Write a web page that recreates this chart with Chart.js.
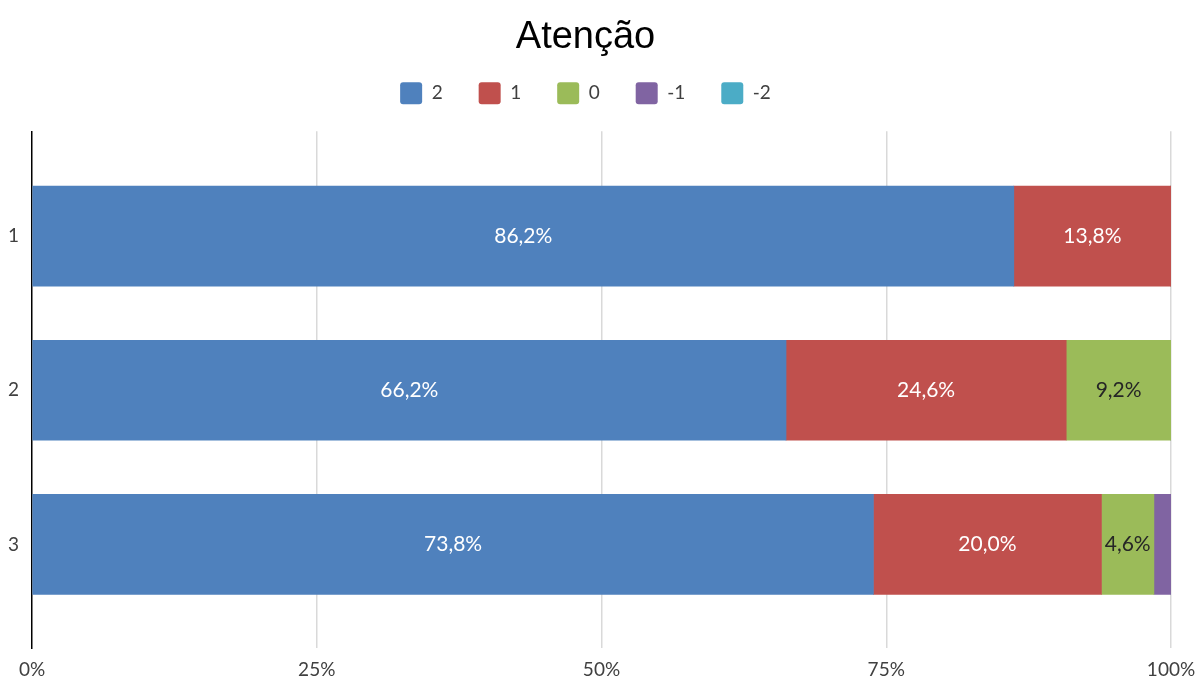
<!DOCTYPE html>
<html>
<head>
<meta charset="utf-8">
<script src="https://cdn.jsdelivr.net/npm/chart.js@4.4.1/dist/chart.umd.min.js"></script>
<style>
  html, body { margin: 0; padding: 0; background: #fff; }
  #wrap { width: 1198px; height: 682px; }
</style>
</head>
<body>
<div id="wrap"><canvas id="chart"></canvas></div>
<script>
// categories (rows) and series (percent of answers)
const categories = ['1', '2', '3'];
const seriesNames = ['2', '1', '0', '-1', '-2'];
const serie2 = [86.2, 66.2, 73.8];
const serie1 = [13.8, 24.6, 20.0];
const serie0 = [0, 9.2, 4.6];
const serieMinus1 = [0, 0, 1.5];
const serieMinus2 = [0, 0, 0];
const xTicks = [0, 25, 50, 75, 100];

const rawSeries = [serie2, serie1, serie0, serieMinus1, serieMinus2];
const colors = ['#4F81BD', '#C0504D', '#9BBB59', '#8064A2', '#4BACC6'];
const labelColors = ['#ffffff', '#ffffff', '#262626', '#ffffff', '#ffffff'];

// 100% stacked: each row scaled to its total
const rowTotals = categories.map((c, i) => rawSeries.reduce((s, arr) => s + arr[i], 0));

const textFont = 'Lato, "Open Sans", sans-serif';

const datasets = rawSeries.map((arr, si) => ({
  label: seriesNames[si],
  data: arr.map((v, i) => ({ x: v / rowTotals[i] * 100, y: i })),
  backgroundColor: colors[si],
  borderWidth: 0,
  barThickness: 100
}));

// labels in the middle of each segment, like Excel data labels
const segLabels = {
  id: 'segLabels',
  afterDatasetsDraw(chart) {
    const ctx = chart.ctx;
    ctx.save();
    ctx.font = '21px ' + textFont;
    ctx.textAlign = 'center';
    ctx.textBaseline = 'middle';
    chart.data.datasets.forEach((ds, di) => {
      const meta = chart.getDatasetMeta(di);
      meta.data.forEach((bar, i) => {
        const v = rawSeries[di][i];
        if (v < 3) return;
        ctx.fillStyle = labelColors[di];
        ctx.fillText(v.toFixed(1).replace('.', ',') + '%', (bar.x + bar.base) / 2, bar.y);
      });
    });
    ctx.restore();
  }
};

// extra room between legend and plot
const legendGap = {
  id: 'legendGap',
  beforeInit(chart) {
    const fit = chart.legend.fit;
    chart.legend.fit = function () {
      fit.call(this);
      this.height += 17;
    };
  }
};

new Chart(document.getElementById('chart'), {
  type: 'bar',
  data: { datasets },
  options: {
    indexAxis: 'y',
    responsive: true,
    maintainAspectRatio: false,
    animation: false,
    layout: { padding: { left: 0, right: 27, top: 0, bottom: -9 } },
    plugins: {
      title: {
        display: true,
        text: 'Atenção',
        color: '#000',
        font: { family: '"Liberation Sans", Arial, sans-serif', size: 38, weight: 'normal', lineHeight: 0.45 },
        padding: { top: 28.5, bottom: 0.7 }
      },
      legend: {
        display: true,
        labels: {
          boxWidth: 22,
          boxHeight: 22,
          padding: 36,
          useBorderRadius: true,
          borderRadius: 3,
          color: '#404040',
          font: { family: textFont, size: 19 }
        }
      },
      tooltip: { enabled: false }
    },
    scales: {
      x: {
        type: 'linear',
        min: 0,
        max: 100,
        stacked: true,
        afterBuildTicks: s => { s.ticks = xTicks.map(v => ({ value: v })); },
        afterFit: s => { s.paddingRight = 0; s.paddingLeft = 0; },
        ticks: {
          callback: v => v + '%',
          color: '#404040',
          font: { family: textFont, size: 19 },
          padding: 10,
          maxRotation: 0
        },
        grid: {
          color: c => (c.tick && c.tick.value === 0) ? 'rgba(0,0,0,0)' : '#d9d9d9',
          lineWidth: 1.5,
          drawTicks: false
        },
        border: { display: false }
      },
      y: {
        type: 'linear',
        reverse: true,
        offset: false,
        min: -0.68,
        max: 2.673,
        stacked: true,
        afterBuildTicks: s => { s.ticks = categories.map((c, i) => ({ value: i })); },
        afterFit: s => { s.width = 32; },
        ticks: {
          callback: v => categories[v],
          color: '#404040',
          font: { family: textFont, size: 19 },
          padding: 13
        },
        grid: { display: false, drawTicks: false, offset: false },
        border: { display: true, color: '#000', width: 1.5 }
      }
    }
  },
  plugins: [segLabels, legendGap]
});
</script>
</body>
</html>
